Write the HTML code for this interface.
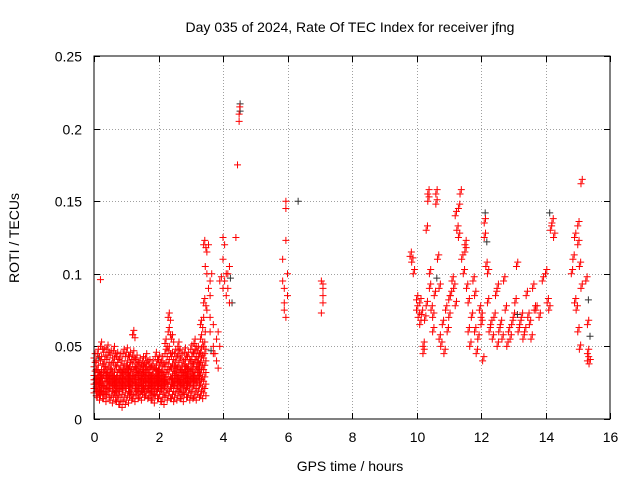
<!DOCTYPE html>
<html>
<head>
<meta charset="utf-8">
<style>
html,body{margin:0;padding:0;background:#fff;}
svg{display:block;font-family:"Liberation Sans",sans-serif;}
</style>
</head>
<body>
<svg id="chart" width="640" height="480" viewBox="0 0 640 480">
  <text x="350" y="32" text-anchor="middle" font-size="14">Day 035 of 2024, Rate Of TEC Index for receiver jfng</text>
  <text x="350" y="471" text-anchor="middle" font-size="14">GPS time / hours</text>
  <text x="19" y="238" text-anchor="middle" font-size="14" transform="rotate(-90 19 238)">ROTI / TECUs</text>
  <g id="grid"></g>
  <g id="ticks"></g>
  <g id="black-series"></g>
  <g id="red-series"></g>
  <rect x="94" y="56" width="516" height="363" fill="none" stroke="#000" stroke-width="1"/>
</svg>
<script>
const xTicks = [0,2,4,6,8,10,12,14,16];
const yTicks = [0,0.05,0.1,0.15,0.2,0.25];
const yTickLabels = ["0","0.05","0.1","0.15","0.2","0.25"];

const clusterTimes = [0.0,0.1,0.2,0.3,0.4,0.5,0.6,0.7,0.8,0.9,1.0,1.1,1.2,1.3,1.4,1.5,1.6,1.7,1.8,1.9,2.0,2.1,2.2,2.3,2.4,2.5,2.6,2.7,2.8,2.9,3.0,3.1,3.2,3.3,3.4];
const clusterValues = [
[.018,.024,.03,.036,.042,.027,.021],
[.015,.022,.029,.034,.045,.026,.019],
[.016,.025,.031,.04,.05,.028,.02],
[.014,.023,.03,.038,.046,.033,.019],
[.017,.026,.032,.041,.048,.022,.029],
[.013,.021,.028,.035,.044,.025,.031],
[.015,.024,.03,.039,.047,.02,.027],
[.012,.022,.029,.036,.043,.018,.026],
[.01,.019,.027,.034,.042,.023,.03],
[.012,.02,.028,.035,.045,.024,.031],
[.013,.021,.029,.037,.046,.025,.033],
[.015,.022,.03,.036,.043,.019,.026],
[.014,.023,.031,.038,.044,.027,.058],
[.016,.024,.029,.035,.041,.02,.033],
[.015,.021,.027,.033,.039,.024,.03],
[.017,.023,.028,.034,.04,.02,.031],
[.016,.022,.029,.036,.042,.025,.032],
[.015,.02,.026,.032,.038,.023,.029],
[.013,.019,.025,.031,.037,.022,.028],
[.016,.022,.028,.035,.043,.025,.031],
[.014,.021,.027,.034,.041,.024,.03],
[.012,.02,.026,.033,.04,.023,.029],
[.015,.022,.029,.036,.045,.026,.052],
[.016,.024,.031,.038,.047,.06,.07],
[.014,.021,.028,.035,.043,.025,.055],
[.015,.023,.03,.037,.045,.027,.033],
[.016,.022,.029,.036,.044,.026,.05],
[.014,.02,.027,.034,.042,.024,.031],
[.017,.023,.03,.038,.046,.026,.033],
[.015,.022,.028,.035,.043,.025,.031],
[.016,.024,.031,.04,.048,.028,.035],
[.015,.023,.03,.038,.045,.027,.052],
[.017,.025,.032,.04,.047,.029,.036],
[.016,.024,.031,.039,.046,.055,.065],
[.018,.026,.034,.042,.05,.08,.12]
];

const redPoints = [[0.2,.096],[1.2,.058],
[3.5,.1],[3.55,.09],[3.6,.095],[3.5,.075],[3.6,.06],[3.7,.05],[3.75,.045],[3.8,.04],[3.85,.035],[3.6,.085],[3.65,.1],[3.7,.065],[3.8,.055],[3.9,.05],[3.5,.115],[3.55,.12],[3.45,.105],[3.7,.045],[3.85,.06],[3.9,.095],[3.95,.098],[3.4,.07],[3.45,.06],[3.6,.07],
[4.0,.125],[4.0,.11],[4.05,.12],[4.1,.1],[4.15,.09],[4.1,.085],[4.05,.095],[4.2,.08],[4.2,.105],[4.0,.09],[4.15,.1],
[4.5,.21],[4.5,.205],[4.52,.215],[4.45,.175],[4.4,.125],
[5.85,.11],[5.9,.09],[5.9,.08],[5.95,.15],[5.95,.145],[5.95,.123],[5.95,.07],[6.0,.1],[6.0,.085],[5.85,.095],[5.9,.075],
[7.05,.095],[7.1,.09],[7.1,.085],[7.1,.08],[7.05,.073],[7.1,.093],
[9.8,.112],[9.85,.108],[9.9,.1],[10.0,.082],[10.0,.075],[10.05,.07],[10.1,.065],[10.1,.08],[10.15,.072],[10.2,.05],[10.2,.045],[10.25,.068],[10.3,.078],[10.3,.13],[10.35,.155],[10.35,.15],[10.4,.1],[10.4,.09],[10.45,.075],[10.5,.07],[10.5,.06],[10.55,.085],[10.6,.155],[10.6,.148],[10.65,.11],[10.7,.09],[10.7,.055],[10.75,.05],[10.8,.065],[10.85,.045],[10.9,.075],[10.95,.06],[11.0,.082],[11.0,.07],[11.05,.085],[11.1,.095],[11.15,.09],[11.2,.078],[11.2,.14],[11.25,.13],[11.3,.125],[11.3,.145],[11.35,.155],[11.4,.11],[11.45,.1],[11.5,.12],[11.5,.115],[11.55,.09],[11.6,.08],[11.6,.06],[11.65,.05],[11.7,.07],[11.75,.095],[11.8,.085],[11.8,.06],[11.85,.045],[11.9,.055],[11.95,.075],[12.0,.07],[12.0,.065],[12.05,.04],[12.1,.135],[12.1,.125],[12.15,.105],[12.2,.1],[12.2,.08],[12.25,.06],[12.3,.065],[12.35,.055],[12.4,.07],[12.45,.085],[12.5,.09],[12.5,.05],[12.55,.06],[12.6,.065],[12.65,.055],[12.7,.095],[12.75,.075],[12.8,.05],[12.85,.06],[12.9,.055],[12.95,.065],[13.0,.07],[13.05,.08],[13.1,.105],[13.15,.06],[13.2,.065],[13.25,.07],[13.3,.055],[13.35,.06],[13.4,.085],[13.45,.07],[13.5,.065],[13.55,.055],[13.6,.09],[13.65,.075],[13.7,.075],[13.8,.07],[13.9,.095],[14.0,.1],[14.05,.08],[14.1,.075],[14.15,.13],[14.2,.135],[14.25,.125],
[14.8,.1],[14.85,.11],[14.9,.125],[14.9,.08],[14.95,.075],[15.0,.133],[15.0,.12],[15.05,.105],[15.1,.162],[15.1,.09],[15.0,.06],[15.05,.048],[15.25,.095],[15.3,.045],[15.3,.04],[15.3,.065],[15.35,.038]];

const blackPoints = [[4.5,.21],[4.5,.215],[4.2,.095],[4.25,.078],[6.3,.148],[12.1,.14],[12.15,.12],[14.1,.14],[15.3,.08],[15.35,.055],[10.6,.095],[13.1,.07],[3.6,.045],[0.1,.04]];

const NS = "http://www.w3.org/2000/svg";
const X0 = 94, X1 = 610, Y0 = 419, Y1 = 56;
function xScale(t){ return X0 + (t/16)*(X1-X0); }
function yScale(v){ return Y0 - (v/0.25)*(Y0-Y1); }

const grid = document.getElementById('grid');
const ticks = document.getElementById('ticks');
function line(parent,x1,y1,x2,y2,stroke,dash){
  const l = document.createElementNS(NS,'line');
  l.setAttribute('x1',x1);l.setAttribute('y1',y1);l.setAttribute('x2',x2);l.setAttribute('y2',y2);
  l.setAttribute('stroke',stroke);l.setAttribute('stroke-width',1);
  if(dash) l.setAttribute('stroke-dasharray',dash);
  parent.appendChild(l); return l;
}
function text(parent,x,y,s,anchor){
  const t = document.createElementNS(NS,'text');
  t.setAttribute('x',x);t.setAttribute('y',y);t.setAttribute('text-anchor',anchor);
  t.setAttribute('font-size','14');t.textContent = s;
  parent.appendChild(t); return t;
}
xTicks.forEach(function(t){
  const x = Math.round(xScale(t))+0.5;
  if(t>0 && t<16){
    const g = line(grid,x,Y1,x,Y0,'#a0a0a0','1,2');
    
    
  }
  line(ticks,x,Y0,x,Y0-6,'#000');
  line(ticks,x,Y1,x,Y1+6,'#000');
  const lb = text(ticks,x,442,String(t),'middle');
  
  
});
yTicks.forEach(function(v,i){
  const y = Math.round(yScale(v))+0.5;
  if(v>0 && v<0.25){
    const g = line(grid,X0,y,X1,y,'#a0a0a0','1,2');
    
    
  }
  line(ticks,X0,y,X0+6,y,'#000');
  line(ticks,X1,y,X1-6,y,'#000');
  const lb = text(ticks,82,y+5,yTickLabels[i],'end');
  
  
});

function plus(parent,t,v,color){
  const x = xScale(t), y = yScale(v);
  const p = document.createElementNS(NS,'path');
  p.setAttribute('d','M'+(x-3.5)+' '+y+'H'+(x+3.5)+'M'+x+' '+(y-3.5)+'V'+(y+3.5));
  p.setAttribute('stroke',color);p.setAttribute('stroke-width','1');p.setAttribute('fill','none');
  
  
  parent.appendChild(p);
}
const bG = document.getElementById('black-series');
const rG = document.getElementById('red-series');
blackPoints.forEach(function(p){ plus(bG,p[0]+0.03,p[1]+0.002,'#333'); });
clusterTimes.forEach(function(t,i){
  clusterValues[i].forEach(function(v){
    plus(rG,t,v,'#ff0000');
    plus(rG,t+0.035,v+0.003,'#ff0000');
    plus(rG,t+0.07,v-0.002,'#ff0000');
  });
});
redPoints.forEach(function(p){
  plus(rG,p[0],p[1],'#ff0000');
  if(p[0] > 9.5){ plus(rG,p[0]+0.04,p[1]+0.003,'#ff0000'); }
});
</script>
</body>
</html>
